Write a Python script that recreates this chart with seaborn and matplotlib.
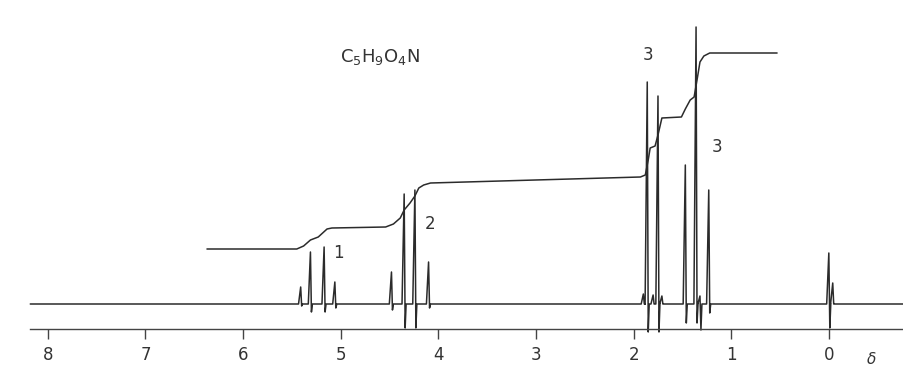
import numpy as np
import pandas as pd
import matplotlib
matplotlib.use("Agg")
import matplotlib.pyplot as plt
import seaborn as sns

# ---- data (chemical shift in ppm, intensity in arbitrary units) ----
peak_shift = [5.41, 5.31, 5.17, 5.06, 4.48, 4.35, 4.24, 4.10,
              1.90, 1.86, 1.80, 1.75, 1.71, 1.47, 1.36, 1.32, 1.23, 0.00, -0.04]
peak_height = [17, 52, 57, 22, 32, 110, 114, 42,
               10, 222, 9, 208, 8, 139, 277, 8, 114, 51, 21]
peak_dip = [-2, -8, -8, -4, -6, -24, -24, -4,
            0, -28, 0, -28, 0, -19, -19, -26, -9, -24, 0]

integral_shift = [6.37, 5.45, 5.38, 5.31, 5.23, 5.14, 5.09, 4.54, 4.46, 4.39, 4.35,
                  4.29, 4.24, 4.20, 4.15, 4.08, 1.93, 1.88, 1.85, 1.83, 1.78, 1.75,
                  1.71, 1.51, 1.47, 1.42, 1.38, 1.35, 1.32, 1.28, 1.22, 0.53]
integral_value = [55, 55, 58, 64, 67, 75, 76, 77, 80, 86, 94,
                  101, 108, 116, 119, 121, 127, 129, 144, 156, 158, 169,
                  186, 187, 195, 204, 207, 224, 242, 248, 251, 251]

tick_values = [8, 7, 6, 5, 4, 3, 2, 1, 0]
tick_labels = ["8", "7", "6", "5", "4", "3", "2", "1", "0"]

multiplet_labels = ["1", "2", "3", "3"]
multiplet_label_shift = [5.02, 4.08, 1.85, 1.15]
multiplet_label_y = [51, 80, 249, 157]

formula = r"C$_5$H$_9$O$_4$N"
spectrum_start, spectrum_end = 8.18, -0.80

# ---- build the spectrum trace (spike shapes) ----
rise, fall, back = 0.022, 0.01, 0.02
xs, ys = [spectrum_start], [0.0]
for p, h, d in zip(peak_shift, peak_height, peak_dip):
    xs += [p + rise, p, p - fall, p - back]
    ys += [0.0, h, d, 0.0]
xs.append(spectrum_end)
ys.append(0.0)
spec = pd.DataFrame({"shift": xs, "intensity": ys})
integ = pd.DataFrame({"shift": integral_shift, "intensity": integral_value})

sns.set_theme(style="white")
plt.rcParams["font.family"] = ["DejaVu Sans"]

ink = "#2b2b2b"
fig = plt.figure(figsize=(9.04, 3.68), dpi=100)
ax = fig.add_axes([0, 0, 1, 1])

sns.lineplot(data=spec, x="shift", y="intensity", sort=False, estimator=None,
             color=ink, linewidth=1.1, ax=ax)
sns.lineplot(data=integ, x="shift", y="intensity", sort=False, estimator=None,
             color=ink, linewidth=1.1, ax=ax)

ax.set_xlim(8.49, -0.77)
ax.set_ylim(-64, 304)
ax.set_xlabel("")
ax.set_ylabel("")

for s in ["top", "left", "right"]:
    ax.spines[s].set_visible(False)
ax.spines["bottom"].set_position(("data", -25))
ax.spines["bottom"].set_bounds(8.18, -0.77)
ax.spines["bottom"].set_color("#444444")
ax.spines["bottom"].set_linewidth(1.0)
ax.set_xticks(tick_values)
ax.set_xticklabels(tick_labels)
ax.tick_params(axis="x", direction="out", length=7, width=1.0, color="#444444",
               labelsize=12, labelcolor="#333333", pad=5, bottom=True)
ax.set_yticks([])

for lab, xv, yv in zip(multiplet_labels, multiplet_label_shift, multiplet_label_y):
    ax.text(xv, yv, lab, fontsize=12, color="#333333", ha="center", va="center")
ax.text(4.60, 247, formula, fontsize=13, color="#333333", ha="center", va="center")
ax.text(-0.44, -55, "δ", fontsize=11, color="#333333", ha="center", va="center",
        style="italic")

fig.savefig("out.png", dpi=100, facecolor="white")
